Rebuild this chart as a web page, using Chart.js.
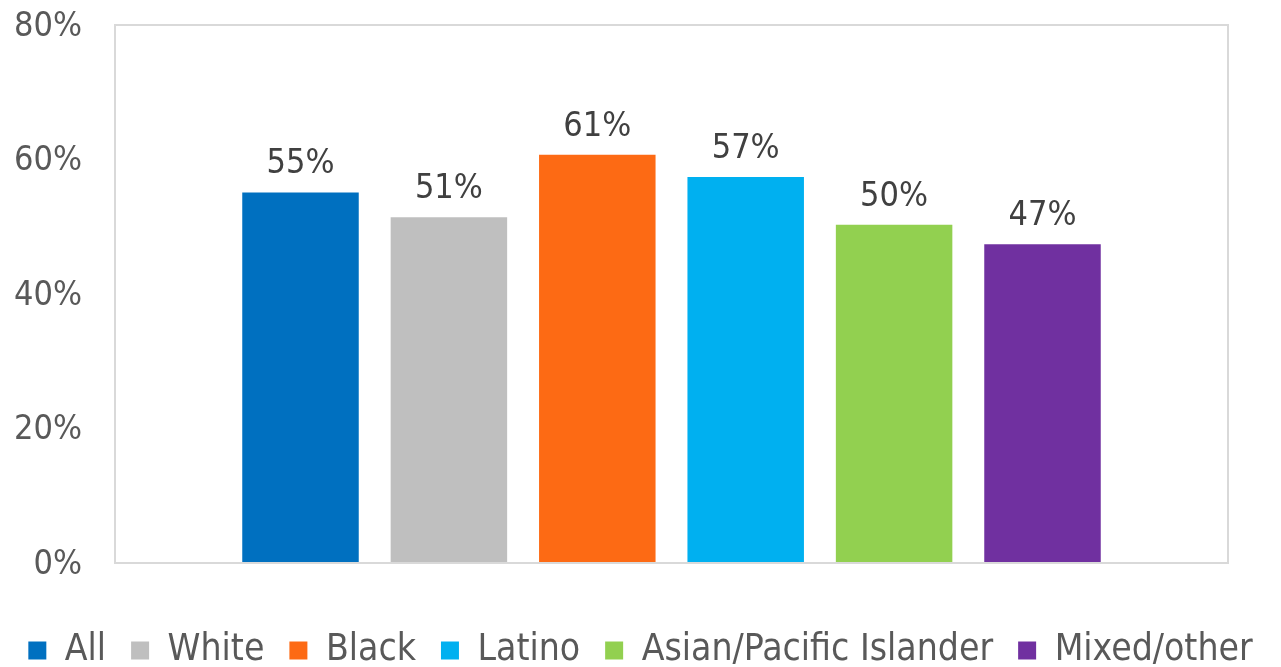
<!DOCTYPE html>
<html>
<head>
<meta charset="utf-8">
<script src="https://cdn.jsdelivr.net/npm/chart.js@4/dist/chart.umd.min.js"></script>
<style>
  body { margin: 0; background: #fff; }
  #wrap { width: 1281px; height: 667px; }
</style>
</head>
<body>
<div id="wrap"><canvas id="chart"></canvas></div>
<script>
// Data
const groups = ["All", "White", "Black", "Latino", "Asian/Pacific Islander", "Mixed/other"];
const shares = [55.1, 51.4, 60.7, 57.4, 50.3, 47.4];
const colors = ["#0070c0", "#bfbfbf", "#fd6a14", "#00b0f0", "#92d050", "#7030a0"];
const yTicks = [0, 20, 40, 60, 80];

const FONT = "'DejaVu Sans Condensed', 'DejaVu Sans', sans-serif";

// plot frame (light grey box round the plot area)
const framePlugin = {
  id: "frame",
  afterDraw(chart) {
    const { ctx, chartArea: a } = chart;
    ctx.save();
    ctx.strokeStyle = "#d9d9d9";
    ctx.lineWidth = 2;
    ctx.strokeRect(a.left, a.top, a.right - a.left, a.bottom - a.top);
    ctx.restore();
  }
};

// value labels above bars
const valueLabels = {
  id: "valueLabels",
  afterDatasetsDraw(chart) {
    const ctx = chart.ctx;
    ctx.save();
    ctx.font = "34px " + FONT;
    ctx.fillStyle = "#404040";
    ctx.textAlign = "center";
    ctx.textBaseline = "alphabetic";
    chart.data.datasets.forEach((ds, i) => {
      chart.getDatasetMeta(i).data.forEach((bar, j) => {
        ctx.fillText(Math.round(ds.data[j]) + "%", bar.x, bar.y - 19);
      });
    });
    ctx.restore();
  }
};

new Chart(document.getElementById("chart"), {
  type: "bar",
  data: {
    labels: [""],
    datasets: groups.map((g, i) => ({
      label: g,
      data: [shares[i]],
      backgroundColor: colors[i]
    }))
  },
  options: {
    responsive: true,
    maintainAspectRatio: false,
    animation: false,
    datasets: { bar: { categoryPercentage: 0.8, barPercentage: 0.785 } },
    layout: { padding: { top: 25, right: 0, left: 0, bottom: -12 } },
    scales: {
      x: {
        grid: { display: false, drawTicks: false },
        border: { display: false },
        ticks: { display: false },
        afterFit: s => { s.height = 44; }
      },
      y: {
        min: 0,
        max: 80,
        afterBuildTicks: s => { s.ticks = yTicks.map(v => ({ value: v })); },
        grid: { display: false, drawTicks: false },
        border: { display: false },
        ticks: {
          padding: 33,
          labelOffset: 2,
          color: "#595959",
          font: { size: 34, family: FONT },
          callback: v => v + "%"
        },
        afterFit: s => { s.width = 115; s.paddingTop = 0; s.paddingBottom = 0; }
      },
      // empty axis that only keeps the right margin
      yRight: {
        position: "right",
        grid: { display: false, drawTicks: false },
        border: { display: false },
        ticks: { display: false },
        afterFit: s => { s.width = 53; }
      }
    },
    plugins: {
      legend: {
        position: "bottom",
        labels: {
          boxWidth: 18,
          boxHeight: 18,
          padding: 25,
          color: "#595959",
          font: { size: 37, family: FONT }
        }
      },
      tooltip: { enabled: false }
    }
  },
  plugins: [framePlugin, valueLabels]
});
</script>
</body>
</html>
